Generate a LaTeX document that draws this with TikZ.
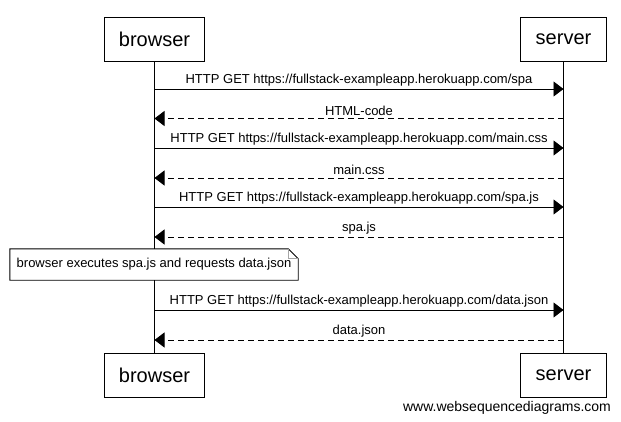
\documentclass[tikz,border=0pt]{standalone}
\usepackage{fontspec}
\setmainfont{Liberation Sans}
\usetikzlibrary{arrows.meta}
\begin{document}
\begin{tikzpicture}[x=1pt,y=-1pt,
  actor/.style={draw, line width=0.9pt, minimum height=44pt, inner sep=0pt, font=\fontsize{20}{24}\selectfont},
  msg/.style={line width=0.9pt, -{Triangle[length=10pt,width=15pt]}},
  reply/.style={msg, dash pattern=on 6pt off 4pt},
  lbl/.style={font=\fontsize{13}{15}\selectfont, above, inner sep=2.5pt},
  lifeline/.style={line width=0.9pt},
  notebox/.style={minimum width=288pt, minimum height=31pt, inner sep=0pt, font=\fontsize{13}{15}\selectfont}
]
\useasboundingbox (0,0) rectangle (621,422);
\fill[white] (0,0) rectangle (621,422);

\node[actor, minimum width=100pt] (bt) at (154.5,39) {browser};
\node[actor, minimum width=86pt] (st) at (563.5,39) {server};
\node[actor, minimum width=100pt] (bb) at (154.5,375) {browser};
\node[actor, minimum width=86pt] (sb) at (563.5,375) {server};

\draw[lifeline] (bt.south) -- (bb.north);
\draw[lifeline] (st.south) -- (sb.north);

\foreach \n/\y in {1/89,2/118.5,3/148,4/178,5/207,6/237,7/310,8/340}{
  \coordinate (b\n) at (154.5,\y);
  \coordinate (s\n) at (563.5,\y);
}

\draw[msg] (b1) -- node[lbl] {HTTP GET https://fullstack-exampleapp.herokuapp.com/spa} (s1);
\draw[reply] (s2) -- node[lbl] {HTML-code} (b2);
\draw[msg] (b3) -- node[lbl] {HTTP GET https://fullstack-exampleapp.herokuapp.com/main.css} (s3);
\draw[reply] (s4) -- node[lbl] {main.css} (b4);
\draw[msg] (b5) -- node[lbl] {HTTP GET https://fullstack-exampleapp.herokuapp.com/spa.js} (s5);
\draw[reply] (s6) -- node[lbl] {spa.js} (b6);

\node[notebox, fill=white] (note) at (154,264.5) {browser executes spa.js and requests data.json};
\draw[line width=0.9pt] (note.north west) -- ([xshift=-10pt]note.north east) -- ([yshift=-10pt]note.north east) -- (note.south east) -- (note.south west) -- cycle;
\draw[gray!70, line width=0.7pt] ([xshift=-10pt]note.north east) -- ([xshift=-10pt,yshift=-10pt]note.north east) -- ([yshift=-10pt]note.north east);

\draw[msg] (b7) -- node[lbl] {HTTP GET https://fullstack-exampleapp.herokuapp.com/data.json} (s7);
\draw[reply] (s8) -- node[lbl] {data.json} (b8);

\node[font=\fontsize{14}{16}\selectfont, inner sep=0pt] (wm) at (507,408) {www.websequencediagrams.com};
\end{tikzpicture}
\end{document}
